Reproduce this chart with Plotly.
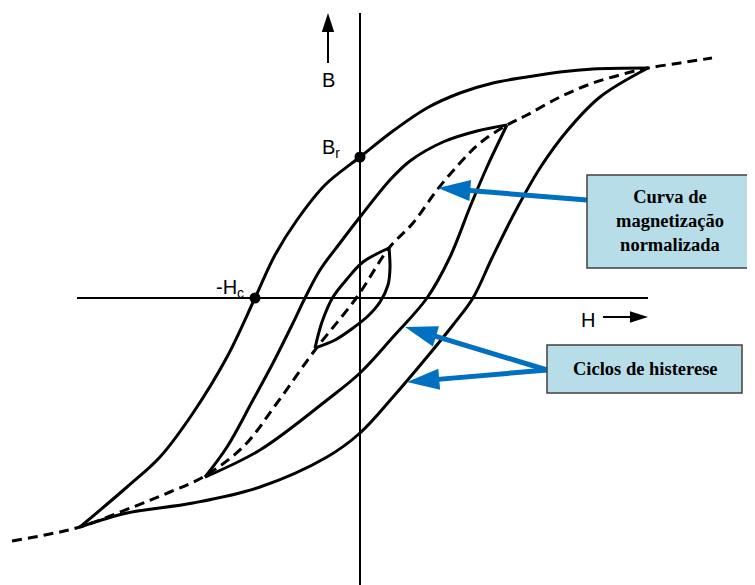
import numpy as np
import plotly.graph_objects as go

# ---------------- data (H, B) ----------------
outer_upper_H = [288, 233, 200, 167, 133, 100, 67, 33, 0, -35, -63, -85, -105, -133, -167, -200, -233, -280]
outer_upper_B = [230, 229, 226, 221, 215, 205, 190, 167, 141, 113, 78, 43, 0, -59, -115, -159, -189, -229]

outer_lower_H = [-280, -233, -167, -100, -33, 0, 33, 67, 93, 113, 132, 155, 180, 207, 240, 288]
outer_lower_B = [-229, -215, -205, -189, -159, -135, -99, -59, -27, 0, 40, 86, 130, 167, 201, 230]

middle_upper_H = [147, 117, 83, 50, 30, 0, -20, -40, -55, -67, -87, -107, -133, -155]
middle_upper_B = [173, 167, 156, 137, 118, 81, 55, 28, 0, -25, -65, -102, -149, -179]

middle_lower_H = [-155, -100, -33, 0, 33, 67, 90, 110, 127, 147]
middle_lower_B = [-179, -152, -102, -75, -39, 0, 41, 91, 131, 173]

small_upper_H = [29, 3, -13, -27, -38, -45]
small_upper_B = [50, 36, 19, 1, -24, -50]

small_lower_H = [-45, -25, -7, 8, 20, 28, 30, 29]
small_lower_B = [-50, -42, -30, -18, -4, 13, 30, 50]

normal_H = [-348, -315, -280, -227, -190, -157, -117, -83, -45, -3, 29, 53, 77, 100, 120, 147, 167, 200, 233, 267, 288, 320, 352]
normal_B = [-243, -237, -229, -209, -194, -179, -149, -105, -52, 1, 50, 75, 108, 135, 155, 173, 183, 201, 215, 225, 230, 235, 240]

Br = (0, 141)
minus_Hc = (-105, 0)

box_curva_text = "Curva de<br>magnetização<br>normalizada"
box_ciclos_text = "Ciclos de histerese"

# ---------------- figure ----------------
fig = go.Figure()

BLACK = "#000000"
BLUE = "#0070C0"

branches = [
    (outer_upper_H, outer_upper_B),
    (outer_lower_H, outer_lower_B),
    (middle_upper_H, middle_upper_B),
    (middle_lower_H, middle_lower_B),
    (small_upper_H, small_upper_B),
    (small_lower_H, small_lower_B),
]
for h, b in branches:
    fig.add_trace(go.Scatter(x=h, y=b, mode="lines",
                             line=dict(color=BLACK, width=3, shape="spline", smoothing=1.0),
                             hoverinfo="skip", showlegend=False))

fig.add_trace(go.Scatter(x=normal_H, y=normal_B, mode="lines",
                         line=dict(color=BLACK, width=3, shape="spline", smoothing=1.0, dash="10px,6px"),
                         hoverinfo="skip", showlegend=False))

# axes
fig.add_shape(type="line", x0=0, x1=0, y0=285, y1=-295, line=dict(color=BLACK, width=2), layer="below")
fig.add_shape(type="line", x0=-283, x1=288, y0=0, y1=0, line=dict(color=BLACK, width=2), layer="below")

# points Br, -Hc
fig.add_trace(go.Scatter(x=[Br[0], minus_Hc[0]], y=[Br[1], minus_Hc[1]], mode="markers",
                         marker=dict(color=BLACK, size=11), hoverinfo="skip", showlegend=False))


def arrow(tail, tip, color, width, head, back):
    tail = np.array(tail, float)
    tip = np.array(tip, float)
    d = tip - tail
    L = np.hypot(*d)
    end = tip - d / L * back
    fig.add_trace(go.Scatter(x=[tail[0], end[0]], y=[tail[1], end[1]], mode="lines",
                             line=dict(color=color, width=width),
                             hoverinfo="skip", showlegend=False))
    ang = float(np.degrees(np.arctan2(d[0], d[1])))
    fig.add_trace(go.Scatter(x=[tip[0]], y=[tip[1]], mode="markers",
                             marker=dict(symbol="arrow", size=head, angle=ang, color=color,
                                         line=dict(width=0)),
                             hoverinfo="skip", showlegend=False))


# axis direction arrows
arrow((-32, 235), (-32, 285), BLACK, 2, 20, 12)
arrow((243, -19), (288, -19), BLACK, 2, 19, 12)

# blue callout arrows
arrow((227, 98), (78, 110), BLUE, 5, 34, 22)
arrow((187, -72), (45, -29), BLUE, 5, 34, 22)
arrow((187, -72), (47, -84), BLUE, 5, 34, 22)

# callout boxes
fig.add_shape(type="rect", x0=227, x1=392, y0=30, y1=123,
              fillcolor="#B7DDE8", line=dict(color="#404040", width=1.5), layer="above")
fig.add_shape(type="rect", x0=187, x1=382, y0=-95, y1=-47,
              fillcolor="#B7DDE8", line=dict(color="#404040", width=1.5), layer="above")

serif = dict(family="Liberation Serif", size=18.5, color=BLACK, weight="bold")
sans = dict(family="Liberation Sans", size=20, color=BLACK)

annotations = [
    dict(x=310, y=77, text=box_curva_text, font=serif, showarrow=False, align="center"),
    dict(x=285, y=-71, text=box_ciclos_text, font=serif, showarrow=False),
    dict(x=-32, y=218, text="B", font=sans, showarrow=False),
    dict(x=-18, y=150, text="B<sub>r</sub>", font=sans, showarrow=False, xanchor="right"),
    dict(x=-114, y=10, text="-H<sub>c</sub>", font=sans, showarrow=False, xanchor="right"),
    dict(x=228, y=-22, text="H", font=sans, showarrow=False),
]
for a in annotations:
    a.update(xref="x", yref="y")
fig.update_layout(annotations=annotations)

# the page body has an 8px margin, so the figure is 747x577 and the ranges are set accordingly
fig.update_xaxes(range=[-352, 395], visible=False, fixedrange=True)
fig.update_yaxes(range=[-287, 290], visible=False, fixedrange=True)
fig.update_layout(width=747, height=577, margin=dict(l=0, r=0, t=0, b=0, pad=0),
                  paper_bgcolor="white", plot_bgcolor="white", showlegend=False)

fig.write_html("out.html")
